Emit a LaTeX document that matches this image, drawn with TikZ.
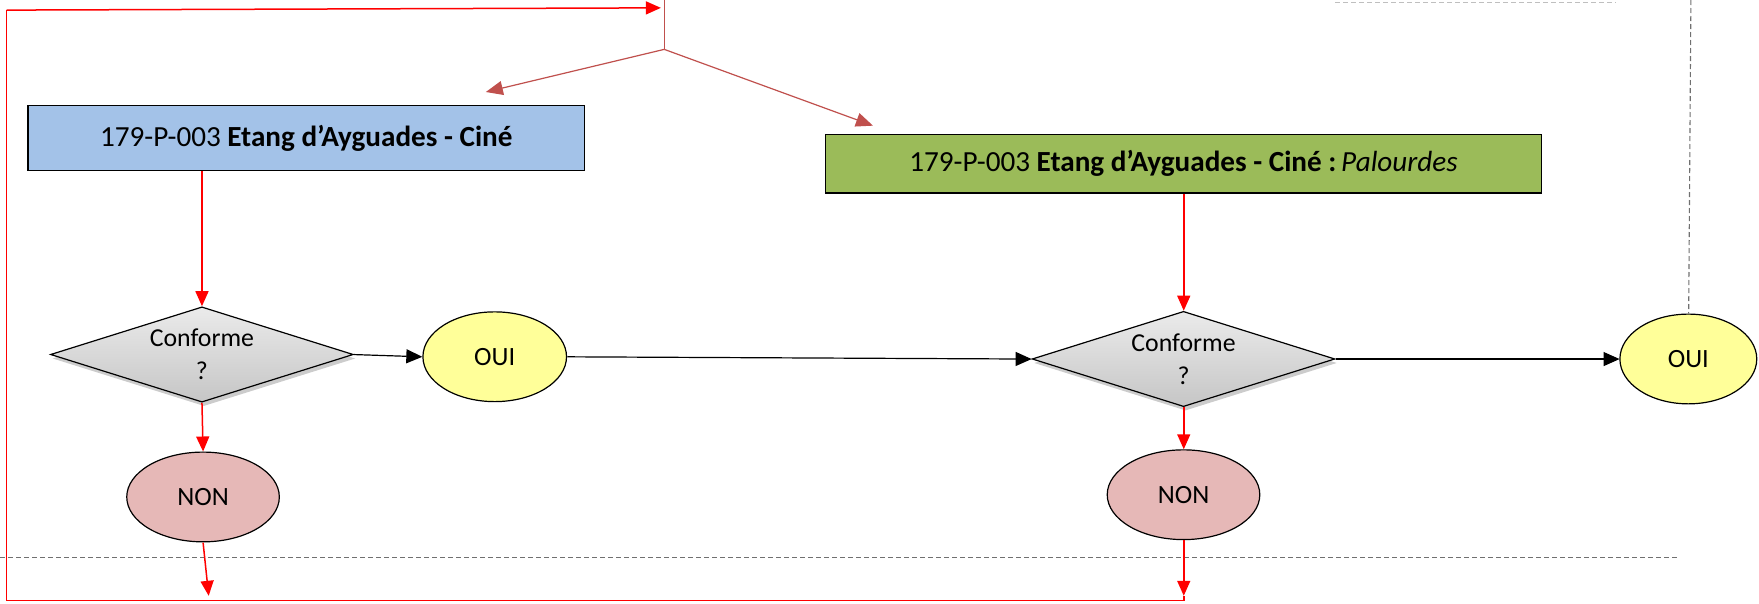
\documentclass[tikz,border=0pt]{standalone}
\usepackage{fontspec}
\setmainfont{Carlito}
\usetikzlibrary{shapes.geometric,arrows.meta,shadows}
\definecolor{boxblue}{HTML}{A3C2E8}
\definecolor{boxgreen}{HTML}{9BBB59}
\definecolor{ouiyellow}{HTML}{FFFF99}
\definecolor{nonpink}{HTML}{E6B8B7}
\definecolor{splitred}{HTML}{C0504D}
\definecolor{dashgray}{HTML}{707070}
\tikzset{
  titlebox/.style={draw=black, line width=1.4pt, minimum height=58, inner sep=0, font=\fontsize{26}{28}\selectfont},
  decision/.style={diamond, aspect=3.18, draw=black, line width=1.2pt, top color=gray!16, bottom color=gray!45, minimum width=270, minimum height=85, inner sep=0, align=center, font=\fontsize{23}{29}\selectfont, drop shadow={shadow xshift=2pt, shadow yshift=-4pt, opacity=0.4}},
  answer/.style={ellipse, draw=black, line width=1.2pt, minimum width=128, minimum height=80, inner sep=0, font=\fontsize{23.5}{26}\selectfont},
  redarrow/.style={draw=red, line width=1.5pt, -{Triangle[length=15pt, width=13pt]}},
  redline/.style={draw=red, line width=1.5pt},
  blackarrow/.style={draw=black, line width=1.2pt, -{Triangle[length=16pt, width=14pt]}},
  splitarrow/.style={draw=splitred, line width=1.2pt, -{Triangle[length=17pt, width=14pt]}},
  sepline/.style={draw=dashgray, line width=1.1pt, dash pattern=on 5pt off 3pt}
}
\begin{document}
\begin{tikzpicture}[x=1pt,y=-1pt,scale=1.1218,every node/.append style={transform shape}]
\useasboundingbox[fill=white] (0,0) rectangle (1568,538.4);

% separators
\coordinate (hs1) at (0,497);
\coordinate (hs2) at (1495,497);
\coordinate (vs1) at (1507,0);
\coordinate (ts1) at (1190,2);
\coordinate (ts2) at (1440,2);
\draw[sepline] (hs1) -- (hs2);
\draw[sepline, draw=gray!50] (ts1) -- (ts2);

% boxes
\node[titlebox, fill=boxblue, minimum width=496, minimum height=58] (blue) at (273,123)
  {179-P-003 \textbf{Etang d'Ayguades - Ciné}};
\node[titlebox, fill=boxgreen, minimum width=638, minimum height=52] (green) at (1055,146)
  {179-P-003 \textbf{Etang d'Ayguades - Ciné :}\,\textit{Palourdes}};

% decisions
\node[decision] (d1) at (180,316) {Conforme\\?};
\node[decision] (d2) at (1055,320) {Conforme\\?};

% answers
\node[answer, fill=ouiyellow] (oui1) at (441,318) {OUI};
\node[answer, fill=ouiyellow, minimum width=122] (oui2) at (1505,320) {OUI};
\node[answer, fill=nonpink, minimum width=136] (non1) at (181,443) {NON};
\node[answer, fill=nonpink, minimum width=136] (non2) at (1055,441) {NON};

\draw[sepline] (vs1) -- (oui2.north);

% split at top
\coordinate (s0) at (592,0);
\coordinate (split) at (592,44);
\coordinate (sa) at (433,82);
\coordinate (sb) at (778,112);
\draw[draw=splitred, line width=1.2pt] (s0) -- (split);
\draw[splitarrow] (split) -- (sa);
\draw[splitarrow] (split) -- (sb);

% main flow
\draw[redarrow] (blue.south -| d1.north) -- (d1.north);
\draw[redarrow] (d1.south) -- (non1.north);
\draw[redarrow] (green.south -| d2.north) -- (d2.north);
\draw[redarrow] (d2.south) -- (non2.north);
\draw[blackarrow] (d1.east) -- (oui1.west);
\draw[blackarrow] (oui1.east) -- (d2.west);
\draw[blackarrow] (d2.east) -- (oui2.west);

% return loop
\coordinate (n1end) at (186,531);
\coordinate (n2end) at (1055,531);
\coordinate (lt) at (6,9);
\coordinate (tarr) at (589,7);
\draw[redarrow] (non1.south) -- (n1end);
\draw[redarrow] (non2.south) -- (n2end);
\draw[redline] (n2end) -- ++(0,4) -| (lt);
\draw[redarrow] (lt) -- (tarr);
\end{tikzpicture}
\end{document}
